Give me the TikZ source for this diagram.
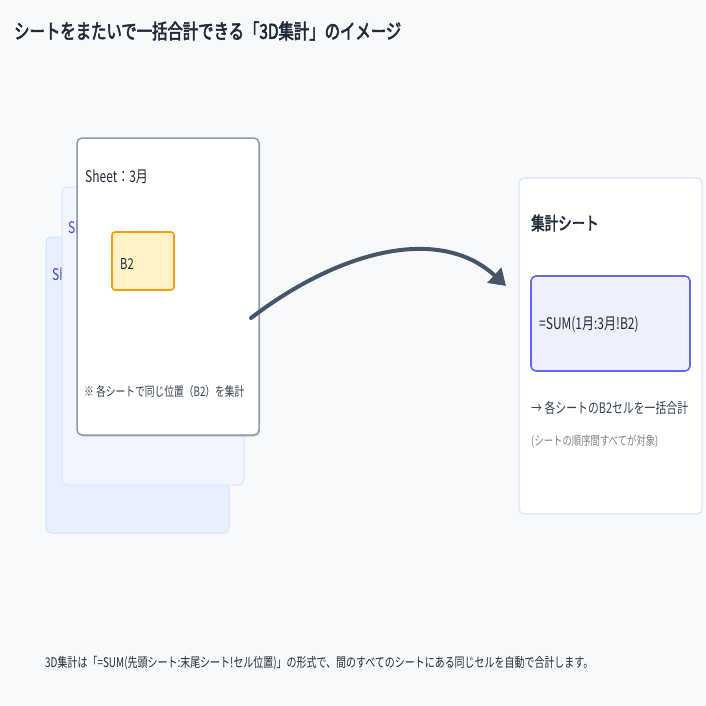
\documentclass[tikz,border=0pt]{standalone}
\usepackage{fontspec}
\setmainfont{Noto Sans CJK JP}[FakeStretch=0.75]
\newfontfamily\jpbold{Noto Sans CJK JP}[FakeStretch=0.75,FakeBold=2.5]
\usetikzlibrary{arrows.meta,shadows}
\definecolor{bg}{HTML}{F8F9FB}
\definecolor{ink}{HTML}{1F2937}
\definecolor{mut}{HTML}{374151}
\definecolor{arr}{HTML}{475569}
\definecolor{sh1}{HTML}{E8F0FE}
\definecolor{sh1b}{HTML}{D3E0FA}
\definecolor{sh2}{HTML}{F0F5FF}
\definecolor{sh2b}{HTML}{DCE5F5}
\definecolor{frb}{HTML}{8E99AB}
\definecolor{cellf}{HTML}{FEF3C7}
\definecolor{cellb}{HTML}{F59E0B}
\definecolor{fbox}{HTML}{EEF0FE}
\definecolor{fboxb}{HTML}{6366F1}
\tikzset{
 card/.style={rounded corners=5pt,line width=1pt},
 lbl/.style={anchor=west,inner sep=0pt,text=ink},
}
\begin{document}
\begin{tikzpicture}[x=1pt,y=-1pt]
\fill[bg] (0,0) rectangle (706,706);
\useasboundingbox (0,0) rectangle (706,706);
\node[lbl,font=\jpbold\fontsize{20.5}{20.5}\selectfont] (title) at (14,31) {シートをまたいで一括合計できる「3D集計」のイメージ};
% back sheets
\draw[card,fill=sh1,draw=sh1b] (46,237) rectangle (229,533);
\node[lbl,text=blue!50!gray,font=\fontsize{16}{16}\selectfont] (s1) at (52,275) {Sheet：1月};
\draw[card,fill=sh2,draw=sh2b] (62,187) rectangle (244,485);
\node[lbl,text=blue!75!white,font=\fontsize{16}{16}\selectfont] (s2) at (68,228) {Sheet：2月};
% front sheet
\draw[card,fill=white,draw=frb,line width=1.5pt,drop shadow={opacity=0.2,shadow xshift=1pt,shadow yshift=-2pt}] (77,138) rectangle (259,435);
\node[lbl,font=\fontsize{16}{16}\selectfont] (s3) at (85,177) {Sheet：3月};
\draw[rounded corners=3pt,fill=cellf,draw=cellb,line width=1.6pt] (112,232) rectangle (174,290);
\node[lbl,font=\fontsize{15}{15}\selectfont] (b2) at (120,264) {B2};
\node[lbl,text=mut,font=\fontsize{13}{13}\selectfont] (note) at (84,392) {※ 各シートで同じ位置（B2）を集計};
% arrow
\coordinate (a0) at (251,318);
\coordinate (a1) at (506,286);
\draw[arr,line width=4pt,line cap=round,-{Triangle[length=16pt,width=20pt]}] (a0) .. controls (340,250) and (440,225) .. (a1);
% right card
\draw[card,fill=white,draw=sh2b,line width=1.3pt] (519,178) rectangle (702,514);
\node[lbl,font=\jpbold\fontsize{18}{18}\selectfont] (sum) at (531,223) {集計シート};
\draw[rounded corners=5pt,fill=fbox,draw=fboxb,line width=1.6pt] (531,276) rectangle (690,371);
\node[lbl,font=\fontsize{16}{16}\selectfont] (f) at (539,325) {=SUM(1月:3月!B2)};
\node[lbl,text=mut,font=\fontsize{14.5}{14.5}\selectfont] (d1) at (531,408) {→ 各シートのB2セルを一括合計};
\node[lbl,text=gray,font=\fontsize{12.5}{12.5}\selectfont] (d2) at (531,441) {(シートの順序間すべてが対象)};
\node[lbl,font=\fontsize{13.3}{13.3}\selectfont] (foot) at (45,663) {3D集計は「=SUM(先頭シート:末尾シート!セル位置)」の形式で、間のすべてのシートにある同じセルを自動で合計します。};
\end{tikzpicture}
\end{document}
